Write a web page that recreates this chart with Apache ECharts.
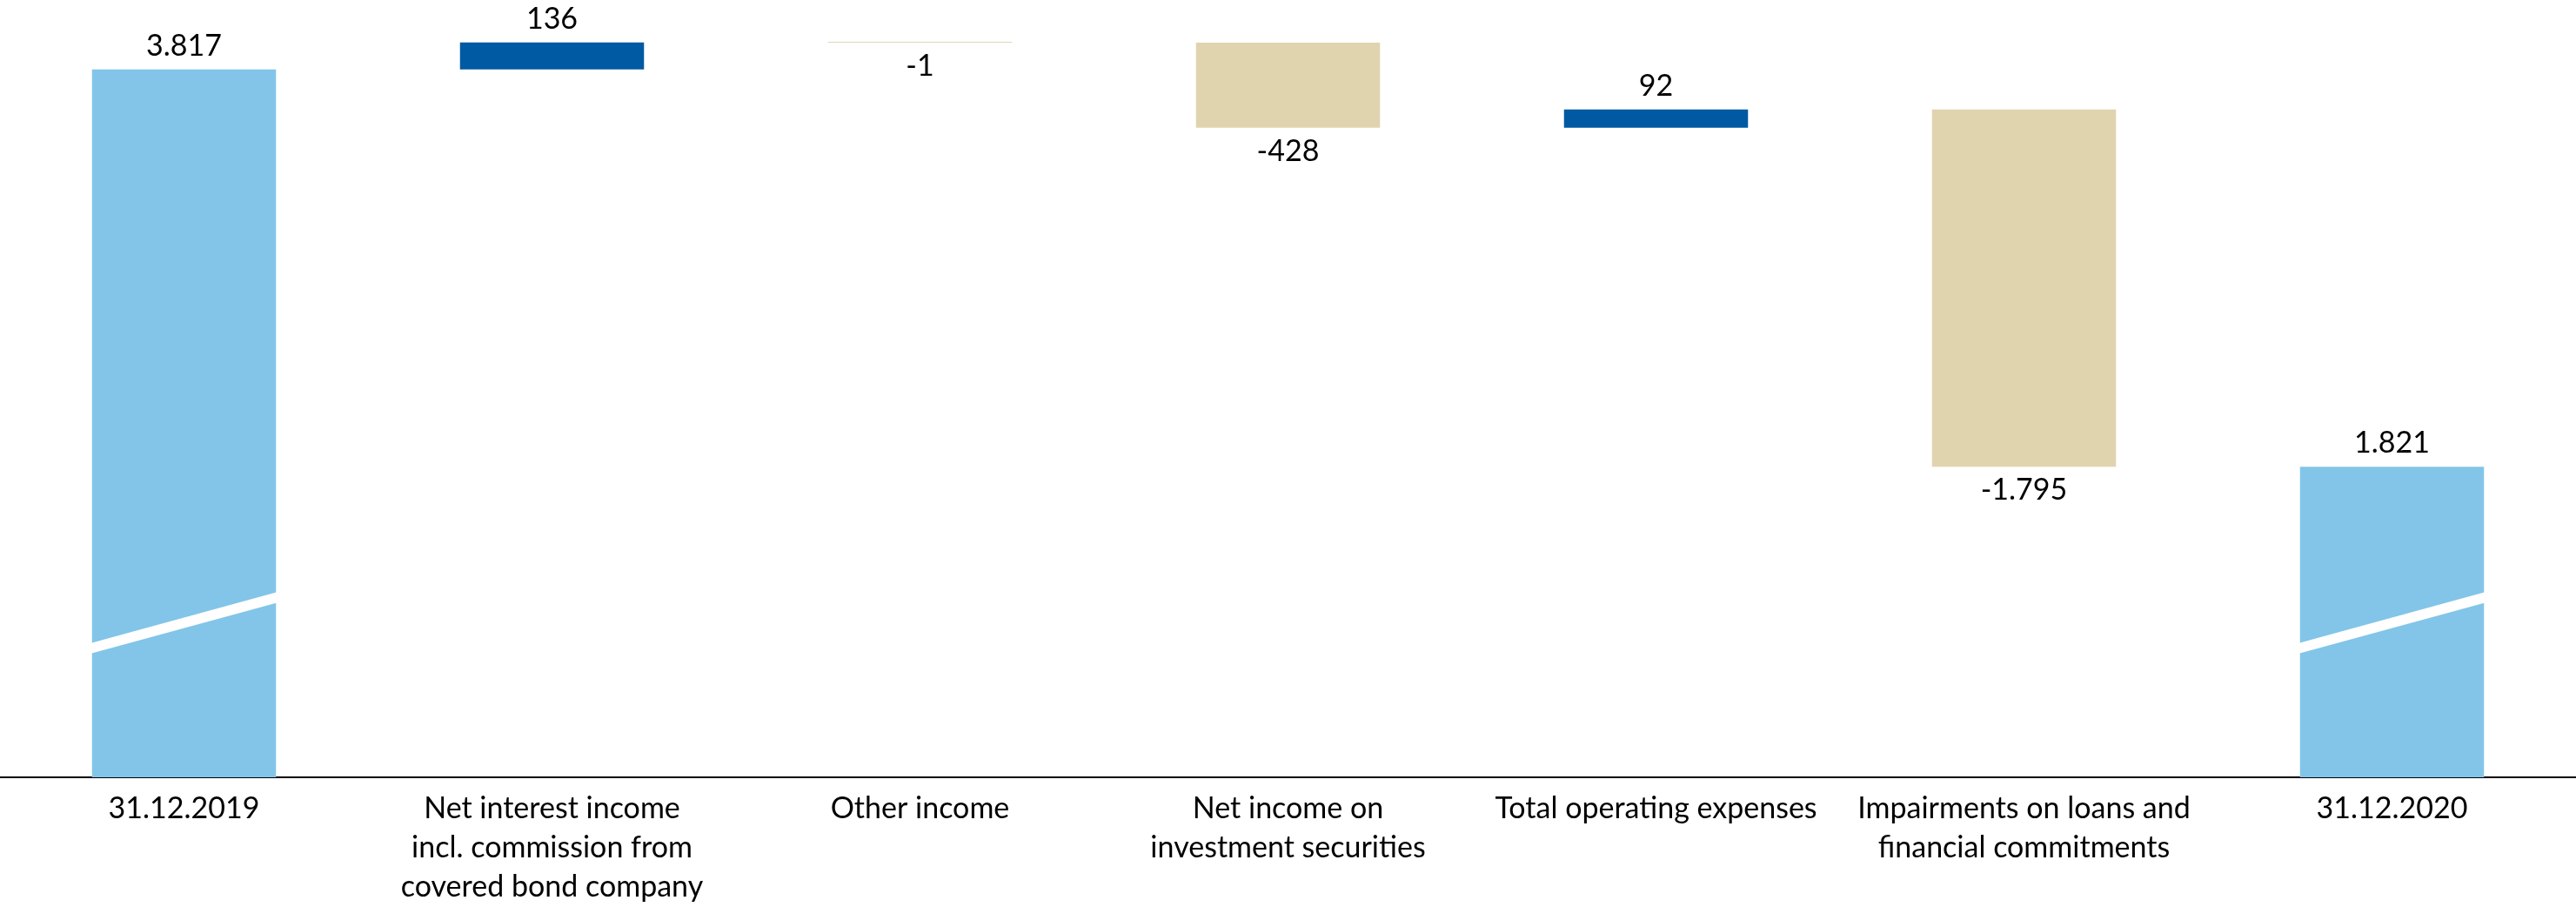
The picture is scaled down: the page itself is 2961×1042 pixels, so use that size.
<!DOCTYPE html>
<html>
<head>
<meta charset="utf-8">
<script src="https://cdn.jsdelivr.net/npm/echarts@6/dist/echarts.min.js"></script>
<style>
html,body{margin:0;padding:0;background:#fff;}
#chart{width:2961px;height:1042px;}
</style>
</head>
<body>
<div id="chart"></div>
<script>
// ---- data ----
const categories = [
  '31.12.2019',
  'Net interest income\nincl. commission from\ncovered bond company',
  'Other income',
  'Net income on\ninvestment securities',
  'Total operating expenses',
  'Impairments on loans and\nfinancial commitments',
  '31.12.2020'
];
const values = [3817, 136, -1, -428, 92, -1795, 1821];
const isTotal = [true, false, false, false, false, false, true];
const valueLabels = ['3.817', '136', '-1', '-428', '92', '-1.795', '1.821'];

// ---- styles ----
const COLOR_TOTAL = '#82C5E8';
const COLOR_UP = '#005AA3';
const COLOR_DOWN = '#E0D4AF';
const FONT = 'Lato, "Open Sans", sans-serif';
const AXIS_MIN = 260, AXIS_MAX = 4000;
// axis-break slash (in value units at left / right edge of bar)
const BREAK_LEFT = 883, BREAK_RIGHT = 1136, BREAK_GAP = 53;

// waterfall construction
const base = [], visible = [];
let running = 0;
values.forEach((v, i) => {
  if (isTotal[i]) { base.push(0); visible.push(v); running = v; }
  else if (v >= 0) { base.push(running); visible.push(v); running += v; }
  else { running += v; base.push(running); visible.push(-v); }
});

const visData = values.map((v, i) => ({
  value: visible[i],
  itemStyle: { color: isTotal[i] ? COLOR_TOTAL : (v >= 0 ? COLOR_UP : COLOR_DOWN) },
  label: { position: (isTotal[i] || v >= 0) ? 'top' : 'bottom' }
}));

const breakData = [];
isTotal.forEach((t, i) => { if (t) breakData.push([i]); });

const chart = echarts.init(document.getElementById('chart'));
chart.setOption({
  animation: false,
  backgroundColor: '#fff',
  grid: { left: 0, right: 0, top: 38, bottom: 146, containLabel: false },
  xAxis: {
    type: 'category',
    data: categories,
    axisLine: { show: true, lineStyle: { color: '#000', width: 2 } },
    axisTick: { show: false },
    axisLabel: {
      interval: 0, margin: 14, color: '#000',
      fontFamily: FONT, fontSize: 34, lineHeight: 45, align: 'center'
    }
  },
  yAxis: {
    type: 'value', min: AXIS_MIN, max: AXIS_MAX,
    show: false, splitLine: { show: false }
  },
  series: [
    {
      type: 'bar', stack: 'wf', data: base, barWidth: '50%',
      itemStyle: { color: 'transparent' }, silent: true
    },
    {
      type: 'bar', stack: 'wf', data: visData, barWidth: '50%', barMinHeight: 1,
      label: {
        show: true, distance: 7, color: '#000', fontFamily: FONT, fontSize: 34, lineHeight: 40,
        formatter: p => valueLabels[p.dataIndex]
      }
    },
    {
      type: 'custom', data: breakData, silent: true, z: 10,
      renderItem: function (params, api) {
        const idx = api.value(0);
        const c = api.coord([idx, AXIS_MIN]);
        const half = api.size([1, 0])[0] * 0.25;
        const slope = (api.coord([idx, BREAK_RIGHT])[1] - api.coord([idx, BREAK_LEFT])[1]) / (2 * half);
        const xl = c[0] - half - 2, xr = c[0] + half + 2;
        const yl0 = api.coord([idx, BREAK_LEFT])[1] - 2 * slope;
        const yr0 = api.coord([idx, BREAK_RIGHT])[1] + 2 * slope;
        const gapPx = api.coord([idx, AXIS_MIN])[1] - api.coord([idx, AXIS_MIN + BREAK_GAP])[1];
        return {
          type: 'polygon',
          shape: { points: [[xl, yl0], [xr, yr0], [xr, yr0 - gapPx], [xl, yl0 - gapPx]] },
          style: { fill: '#fff' }
        };
      }
    }
  ]
});
</script>
</body>
</html>
